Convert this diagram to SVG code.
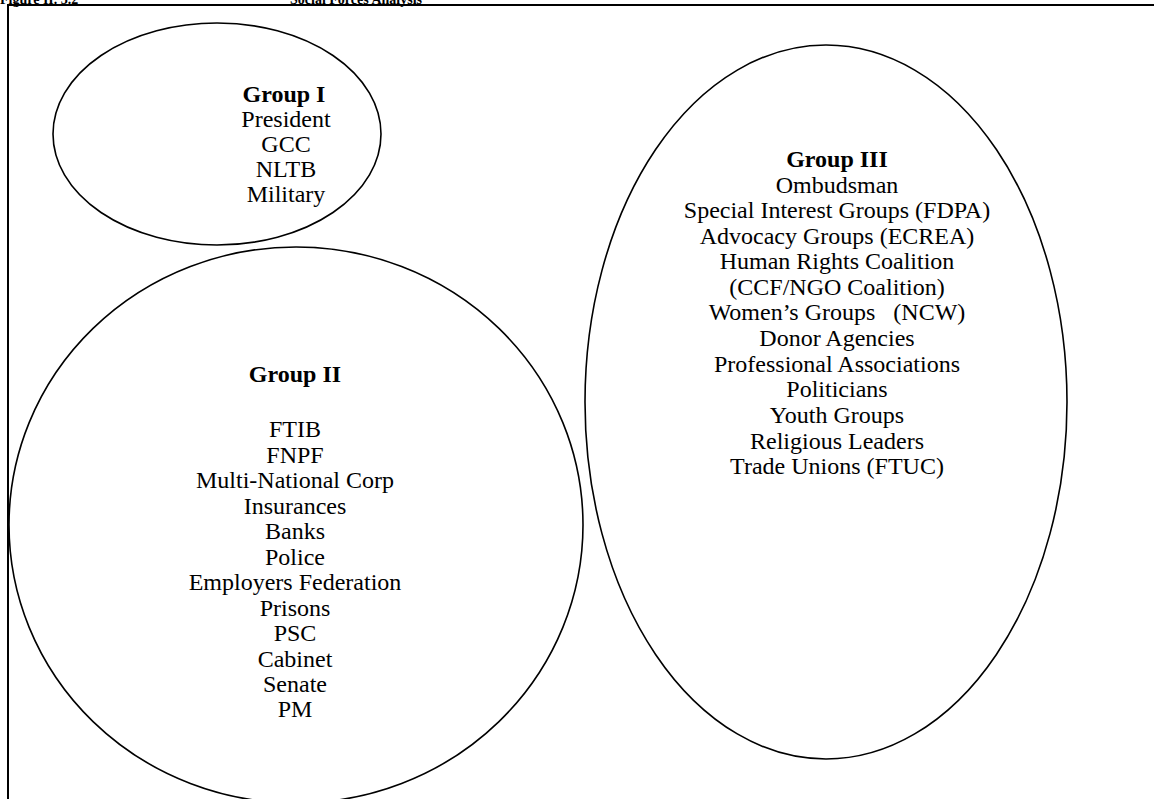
<svg xmlns="http://www.w3.org/2000/svg" width="1154" height="799" viewBox="0 0 1154 799">
<style>
.t{font-family:"Liberation Serif","Times New Roman",serif;font-size:24px;fill:#000;text-anchor:middle}
.b{font-weight:bold}
.h{font-family:"Liberation Serif","Times New Roman",serif;font-size:14px;font-weight:bold;fill:#000}
.e{fill:none;stroke:#000;stroke-width:1.6}
</style>
<rect width="1154" height="799" fill="#fff"/>
<text class="h" x="0" y="3.5">Figure II. 3.2</text>
<text class="h" x="290" y="3.5">Social Forces Analysis</text>
<rect x="8" y="5" width="1160" height="810" fill="none" stroke="#000" stroke-width="2"/>
<g id="group1">
<ellipse class="e" cx="217" cy="134" rx="164" ry="111"/>
<text class="t b" x="284" y="102">Group I</text>
<text class="t" x="286" y="127">President</text>
<text class="t" x="286" y="152">GCC</text>
<text class="t" x="286" y="177">NLTB</text>
<text class="t" x="286" y="202">Military</text>
</g>
<g id="group2">
<ellipse class="e" cx="296" cy="525" rx="287" ry="278"/>
<text class="t b" x="295" y="382">Group II</text>
<text class="t" x="295" y="437">FTIB</text>
<text class="t" x="295" y="462.5">FNPF</text>
<text class="t" x="295" y="488">Multi-National Corp</text>
<text class="t" x="295" y="513.5">Insurances</text>
<text class="t" x="295" y="539">Banks</text>
<text class="t" x="295" y="564.5">Police</text>
<text class="t" x="295" y="590">Employers Federation</text>
<text class="t" x="295" y="615.5">Prisons</text>
<text class="t" x="295" y="641">PSC</text>
<text class="t" x="295" y="666.5">Cabinet</text>
<text class="t" x="295" y="692">Senate</text>
<text class="t" x="295" y="717">PM</text>
</g>
<g id="group3">
<ellipse class="e" cx="826" cy="402" rx="241" ry="357"/>
<text class="t b" x="837" y="167">Group III</text>
<text class="t" x="837" y="192.5">Ombudsman</text>
<text class="t" x="837" y="218">Special Interest Groups (FDPA)</text>
<text class="t" x="837" y="243.5">Advocacy Groups (ECREA)</text>
<text class="t" x="837" y="269">Human Rights Coalition</text>
<text class="t" x="837" y="294.5">(CCF/NGO Coalition)</text>
<text class="t" x="837" y="320" xml:space="preserve">Women’s Groups   (NCW)</text>
<text class="t" x="837" y="346">Donor Agencies</text>
<text class="t" x="837" y="371.5">Professional Associations</text>
<text class="t" x="837" y="397">Politicians</text>
<text class="t" x="837" y="423">Youth Groups</text>
<text class="t" x="837" y="448.5">Religious Leaders</text>
<text class="t" x="837" y="474">Trade Unions (FTUC)</text>
</g>
<g id="connectors"></g>
</svg>
